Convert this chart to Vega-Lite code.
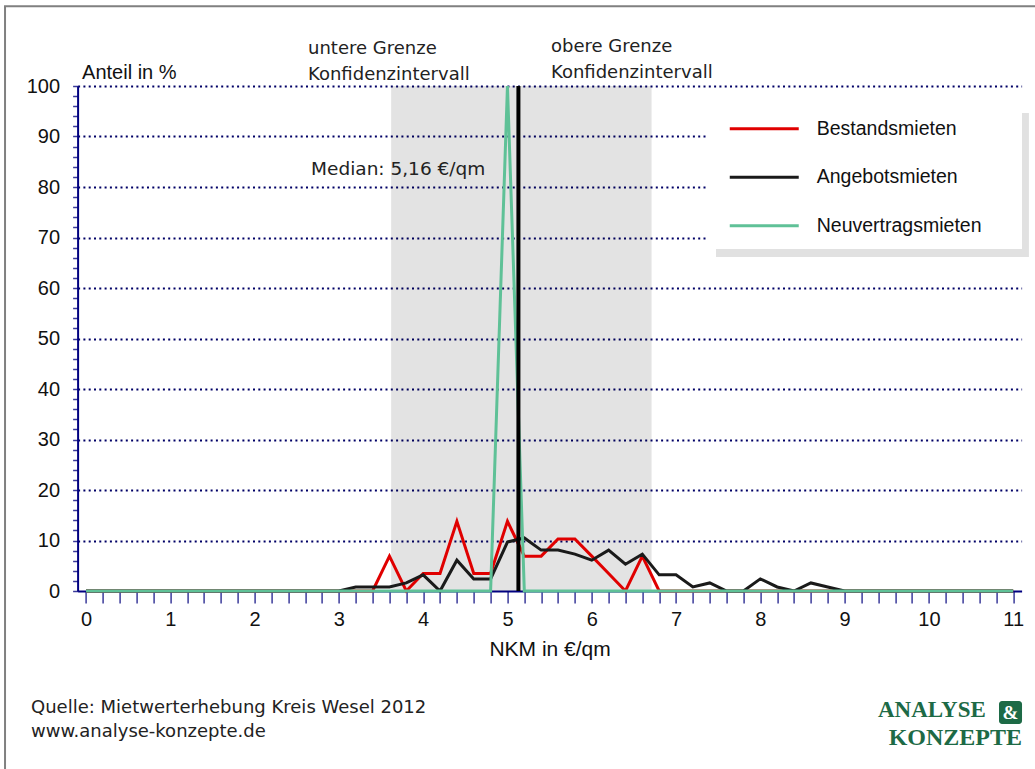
{
  "$schema": "https://vega.github.io/schema/vega-lite/v6.json",
  "width": 944,
  "height": 505,
  "autosize": {"type": "none"},
  "padding": {"left": 77.6, "top": 86, "right": 13.4, "bottom": 178},
  "background": "white",
  "config": {"view": {"stroke": null}, "font": "Liberation Sans"},
  "resolve": {"axis": {"x": "independent", "y": "independent"}},
  "layer": [
    {
      "data": {"values": [{}]},
      "mark": {"type": "rect", "filled": false, "stroke": "#808080", "strokeWidth": 2},
      "encoding": {
        "x": {"datum": -0.961, "type": "quantitative", "scale": {"domain": [-0.1, 11.1], "nice": false, "zero": false}, "axis": null},
        "x2": {"datum": 11.35},
        "y": {"datum": 115.8, "type": "quantitative", "scale": {"domain": [0, 100], "nice": false}, "axis": null},
        "y2": {"datum": -37}
      }
    },
    {
      "data": {"values": [{}]},
      "mark": {"type": "rect", "fill": "#000000", "fillOpacity": 0.11, "strokeWidth": 0},
      "encoding": {
        "x": {"datum": 3.62, "type": "quantitative", "scale": {"domain": [-0.1, 11.1], "nice": false, "zero": false}, "axis": null},
        "x2": {"datum": 6.71},
        "y": {"datum": 0, "type": "quantitative", "scale": {"domain": [0, 100], "nice": false}, "axis": null},
        "y2": {"datum": 100}
      }
    },
    {
      "data": {"values": [{}]},
      "mark": {"type": "rect", "fill": "#e1e1e1", "strokeWidth": 0},
      "encoding": {
        "x": {"datum": 7.474, "type": "quantitative", "scale": {"domain": [-0.1, 11.1], "nice": false, "zero": false}, "axis": null},
        "x2": {"datum": 11.187},
        "y": {"datum": 94.65, "type": "quantitative", "scale": {"domain": [0, 100], "nice": false}, "axis": null},
        "y2": {"datum": 66.14}
      }
    },
    {
      "data": {"values": [{}]},
      "mark": {"type": "rect", "fill": "#ffffff", "strokeWidth": 0},
      "encoding": {
        "x": {"datum": 7.379, "type": "quantitative", "scale": {"domain": [-0.1, 11.1], "nice": false, "zero": false}, "axis": null},
        "x2": {"datum": 11.105},
        "y": {"datum": 96.24, "type": "quantitative", "scale": {"domain": [0, 100], "nice": false}, "axis": null},
        "y2": {"datum": 67.72}
      }
    },
    {
      "data": {"values": [{}]},
      "mark": {"type": "text", "text": ["untere Grenze", "Konfidenzintervall"], "font": "DejaVu Sans", "fontSize": 18, "align": "left", "baseline": "alphabetic", "lineHeight": 26, "color": "#222222"},
      "encoding": {
        "x": {"datum": 2.634, "type": "quantitative", "scale": {"domain": [-0.1, 11.1], "nice": false, "zero": false}, "axis": null},
        "y": {"datum": 106.3, "type": "quantitative", "scale": {"domain": [0, 100], "nice": false}, "axis": null}
      }
    },
    {
      "data": {"values": [{}]},
      "mark": {"type": "text", "text": ["obere Grenze", "Konfidenzintervall"], "font": "DejaVu Sans", "fontSize": 18, "align": "left", "baseline": "alphabetic", "lineHeight": 26, "color": "#222222"},
      "encoding": {
        "x": {"datum": 5.517, "type": "quantitative", "scale": {"domain": [-0.1, 11.1], "nice": false, "zero": false}, "axis": null},
        "y": {"datum": 106.7, "type": "quantitative", "scale": {"domain": [0, 100], "nice": false}, "axis": null}
      }
    },
    {
      "data": {"values": [{}]},
      "mark": {"type": "text", "text": "Median: 5,16 €/qm", "font": "DejaVu Sans", "fontSize": 18.5, "align": "left", "baseline": "alphabetic", "color": "#222222"},
      "encoding": {
        "x": {"datum": 2.67, "type": "quantitative", "scale": {"domain": [-0.1, 11.1], "nice": false, "zero": false}, "axis": null},
        "y": {"datum": 82.4, "type": "quantitative", "scale": {"domain": [0, 100], "nice": false}, "axis": null}
      }
    },
    {
      "data": {"values": [{}]},
      "mark": {"type": "text", "text": "Anteil in %", "font": "Liberation Sans", "fontSize": 20, "align": "left", "baseline": "alphabetic", "color": "#111111"},
      "encoding": {
        "x": {"datum": -0.047, "type": "quantitative", "scale": {"domain": [-0.1, 11.1], "nice": false, "zero": false}, "axis": null},
        "y": {"datum": 101.4, "type": "quantitative", "scale": {"domain": [0, 100], "nice": false}, "axis": null}
      }
    },
    {
      "data": {"values": [
        {"nkm": 0, "anteil": 0, "serie": "Bestandsmieten"},
        {"nkm": 3.4, "anteil": 0, "serie": "Bestandsmieten"},
        {"nkm": 3.6, "anteil": 6.9, "serie": "Bestandsmieten"},
        {"nkm": 3.8, "anteil": 0, "serie": "Bestandsmieten"},
        {"nkm": 4.0, "anteil": 3.45, "serie": "Bestandsmieten"},
        {"nkm": 4.2, "anteil": 3.45, "serie": "Bestandsmieten"},
        {"nkm": 4.4, "anteil": 13.8, "serie": "Bestandsmieten"},
        {"nkm": 4.6, "anteil": 3.45, "serie": "Bestandsmieten"},
        {"nkm": 4.8, "anteil": 3.45, "serie": "Bestandsmieten"},
        {"nkm": 5.0, "anteil": 13.8, "serie": "Bestandsmieten"},
        {"nkm": 5.2, "anteil": 6.9, "serie": "Bestandsmieten"},
        {"nkm": 5.4, "anteil": 6.9, "serie": "Bestandsmieten"},
        {"nkm": 5.6, "anteil": 10.3, "serie": "Bestandsmieten"},
        {"nkm": 5.8, "anteil": 10.3, "serie": "Bestandsmieten"},
        {"nkm": 6.0, "anteil": 6.9, "serie": "Bestandsmieten"},
        {"nkm": 6.2, "anteil": 3.45, "serie": "Bestandsmieten"},
        {"nkm": 6.4, "anteil": 0, "serie": "Bestandsmieten"},
        {"nkm": 6.6, "anteil": 6.9, "serie": "Bestandsmieten"},
        {"nkm": 6.8, "anteil": 0, "serie": "Bestandsmieten"},
        {"nkm": 11, "anteil": 0, "serie": "Bestandsmieten"},
        {"nkm": 0, "anteil": 0, "serie": "Angebotsmieten"},
        {"nkm": 3.0, "anteil": 0, "serie": "Angebotsmieten"},
        {"nkm": 3.2, "anteil": 0.8, "serie": "Angebotsmieten"},
        {"nkm": 3.4, "anteil": 0.8, "serie": "Angebotsmieten"},
        {"nkm": 3.6, "anteil": 0.8, "serie": "Angebotsmieten"},
        {"nkm": 3.8, "anteil": 1.6, "serie": "Angebotsmieten"},
        {"nkm": 4.0, "anteil": 3.2, "serie": "Angebotsmieten"},
        {"nkm": 4.2, "anteil": 0, "serie": "Angebotsmieten"},
        {"nkm": 4.4, "anteil": 6.1, "serie": "Angebotsmieten"},
        {"nkm": 4.6, "anteil": 2.4, "serie": "Angebotsmieten"},
        {"nkm": 4.8, "anteil": 2.4, "serie": "Angebotsmieten"},
        {"nkm": 5.0, "anteil": 9.7, "serie": "Angebotsmieten"},
        {"nkm": 5.2, "anteil": 10.5, "serie": "Angebotsmieten"},
        {"nkm": 5.4, "anteil": 8.1, "serie": "Angebotsmieten"},
        {"nkm": 5.6, "anteil": 8.1, "serie": "Angebotsmieten"},
        {"nkm": 5.8, "anteil": 7.3, "serie": "Angebotsmieten"},
        {"nkm": 6.0, "anteil": 6.1, "serie": "Angebotsmieten"},
        {"nkm": 6.2, "anteil": 8.1, "serie": "Angebotsmieten"},
        {"nkm": 6.4, "anteil": 5.3, "serie": "Angebotsmieten"},
        {"nkm": 6.6, "anteil": 7.3, "serie": "Angebotsmieten"},
        {"nkm": 6.8, "anteil": 3.2, "serie": "Angebotsmieten"},
        {"nkm": 7.0, "anteil": 3.2, "serie": "Angebotsmieten"},
        {"nkm": 7.2, "anteil": 0.8, "serie": "Angebotsmieten"},
        {"nkm": 7.4, "anteil": 1.6, "serie": "Angebotsmieten"},
        {"nkm": 7.6, "anteil": 0, "serie": "Angebotsmieten"},
        {"nkm": 7.8, "anteil": 0, "serie": "Angebotsmieten"},
        {"nkm": 8.0, "anteil": 2.4, "serie": "Angebotsmieten"},
        {"nkm": 8.2, "anteil": 0.8, "serie": "Angebotsmieten"},
        {"nkm": 8.4, "anteil": 0, "serie": "Angebotsmieten"},
        {"nkm": 8.6, "anteil": 1.6, "serie": "Angebotsmieten"},
        {"nkm": 8.8, "anteil": 0.8, "serie": "Angebotsmieten"},
        {"nkm": 9.0, "anteil": 0, "serie": "Angebotsmieten"},
        {"nkm": 11, "anteil": 0, "serie": "Angebotsmieten"},
        {"nkm": 0, "anteil": 0, "serie": "Neuvertragsmieten"},
        {"nkm": 4.8, "anteil": 0, "serie": "Neuvertragsmieten"},
        {"nkm": 5.0, "anteil": 100, "serie": "Neuvertragsmieten"},
        {"nkm": 5.2, "anteil": 0, "serie": "Neuvertragsmieten"},
        {"nkm": 11, "anteil": 0, "serie": "Neuvertragsmieten"}
      ]},
      "mark": {"type": "line", "strokeWidth": 3},
      "encoding": {
        "x": {
          "field": "nkm", "type": "quantitative",
          "scale": {"domain": [-0.1, 11.1], "nice": false, "zero": false},
          "axis": {
            "values": [0,0.2,0.4,0.6,0.8,1,1.2,1.4,1.6,1.8,2,2.2,2.4,2.6,2.8,3,3.2,3.4,3.6,3.8,4,4.2,4.4,4.6,4.8,5,5.2,5.4,5.6,5.8,6,6.2,6.4,6.6,6.8,7,7.2,7.4,7.6,7.8,8,8.2,8.4,8.6,8.8,9,9.2,9.4,9.6,9.8,10,10.2,10.4,10.6,10.8,11],
            "labelExpr": "datum.value % 1 === 0 ? format(datum.value, 'd') : ''",
            "grid": false,
            "tickSize": 12, "tickColor": "#3a3a9a", "tickWidth": 1.5,
            "domainColor": "#000080", "domainWidth": 2,
            "labelFont": "Liberation Sans", "labelFontSize": 20, "labelColor": "#111111", "labelPadding": 6,
            "labelOverlap": false, "labelFlush": false, "labelBound": false,
            "title": "NKM in €/qm", "titleFont": "Liberation Sans", "titleFontSize": 21, "titleFontWeight": "normal", "titleColor": "#111111", "titlePadding": 9
          }
        },
        "y": {
          "field": "anteil", "type": "quantitative",
          "scale": {"domain": [0, 100], "nice": false},
          "axis": {
            "values": [0,2,4,6,8,10,12,14,16,18,20,22,24,26,28,30,32,34,36,38,40,42,44,46,48,50,52,54,56,58,60,62,64,66,68,70,72,74,76,78,80,82,84,86,88,90,92,94,96,98,100],
            "labelExpr": "datum.value % 10 === 0 ? format(datum.value, 'd') : ''",
            "grid": true, "gridColor": "#000066", "gridDash": [2, 3.3], "gridWidth": 2,
            "gridOpacity": {"condition": {"test": "datum.value % 10 !== 0 || datum.value === 0", "value": 0}, "value": 1},
            "tickSize": 5, "tickColor": "#3a3a9a", "tickWidth": 1.5,
            "domainColor": "#000080", "domainWidth": 2,
            "labelFont": "Liberation Sans", "labelFontSize": 20, "labelColor": "#111111", "labelPadding": 13,
            "labelOverlap": false, "labelFlush": false, "labelBound": false,
            "title": null
          }
        },
        "color": {
          "field": "serie", "type": "nominal",
          "scale": {"domain": ["Bestandsmieten", "Angebotsmieten", "Neuvertragsmieten"], "range": ["#e00000", "#1a1a1a", "#5fc197"]},
          "legend": {
            "orient": "none", "legendX": 650.4, "legendY": 23.75, "title": null,
            "symbolType": "M-2,0L2,0", "symbolSize": 1190, "symbolStrokeWidth": 3, "symbolOffset": 17.25,
            "labelOffset": 33.5, "rowPadding": 19.5, "padding": 0,
            "labelFont": "Liberation Sans", "labelFontSize": 19.5, "labelColor": "#111111", "labelLimit": 400,
            "zindex": 2
          }
        }
      }
    },
    {
      "data": {"values": [{}]},
      "mark": {"type": "rule", "color": "#000000", "strokeWidth": 4},
      "encoding": {
        "x": {"datum": 5.13, "type": "quantitative", "scale": {"domain": [-0.1, 11.1], "nice": false, "zero": false}, "axis": null},
        "y": {"datum": 0, "type": "quantitative", "scale": {"domain": [0, 100], "nice": false}, "axis": null},
        "y2": {"datum": 100}
      }
    },
    {
      "data": {"values": [{}]},
      "mark": {"type": "text", "text": ["Quelle: Mietwerterhebung Kreis Wesel 2012", "www.analyse-konzepte.de"], "font": "DejaVu Sans", "fontSize": 18, "align": "left", "baseline": "alphabetic", "lineHeight": 24, "color": "#222222"},
      "encoding": {
        "x": {"datum": -0.6525, "type": "quantitative", "scale": {"domain": [-0.1, 11.1], "nice": false, "zero": false}, "axis": null},
        "y": {"datum": -24.16, "type": "quantitative", "scale": {"domain": [0, 100], "nice": false}, "axis": null}
      }
    },
    {
      "data": {"values": [{}]},
      "mark": {"type": "text", "text": "ANALYSE", "font": "Liberation Serif", "fontWeight": "bold", "fontSize": 23, "align": "left", "baseline": "alphabetic", "color": "#1d6a46"},
      "encoding": {
        "x": {"datum": 9.396, "type": "quantitative", "scale": {"domain": [-0.1, 11.1], "nice": false, "zero": false}, "axis": null},
        "y": {"datum": -24.95, "type": "quantitative", "scale": {"domain": [0, 100], "nice": false}, "axis": null}
      }
    },
    {
      "data": {"values": [{}]},
      "mark": {"type": "text", "text": "KONZEPTE", "font": "Liberation Serif", "fontWeight": "bold", "fontSize": 24, "align": "right", "baseline": "alphabetic", "color": "#1d6a46"},
      "encoding": {
        "x": {"datum": 11.105, "type": "quantitative", "scale": {"domain": [-0.1, 11.1], "nice": false, "zero": false}, "axis": null},
        "y": {"datum": -30.5, "type": "quantitative", "scale": {"domain": [0, 100], "nice": false}, "axis": null}
      }
    },
    {
      "data": {"values": [{}]},
      "mark": {"type": "rect", "fill": "#1d6a46", "cornerRadius": 3, "strokeWidth": 0},
      "encoding": {
        "x": {"datum": 10.832, "type": "quantitative", "scale": {"domain": [-0.1, 11.1], "nice": false, "zero": false}, "axis": null},
        "x2": {"datum": 11.105},
        "y": {"datum": -21.78, "type": "quantitative", "scale": {"domain": [0, 100], "nice": false}, "axis": null},
        "y2": {"datum": -26.34}
      }
    },
    {
      "data": {"values": [{}]},
      "mark": {"type": "text", "text": "&", "font": "Liberation Serif", "fontWeight": "bold", "fontSize": 19, "align": "center", "baseline": "middle", "color": "#ffffff"},
      "encoding": {
        "x": {"datum": 10.968, "type": "quantitative", "scale": {"domain": [-0.1, 11.1], "nice": false, "zero": false}, "axis": null},
        "y": {"datum": -24.06, "type": "quantitative", "scale": {"domain": [0, 100], "nice": false}, "axis": null}
      }
    }
  ]
}
